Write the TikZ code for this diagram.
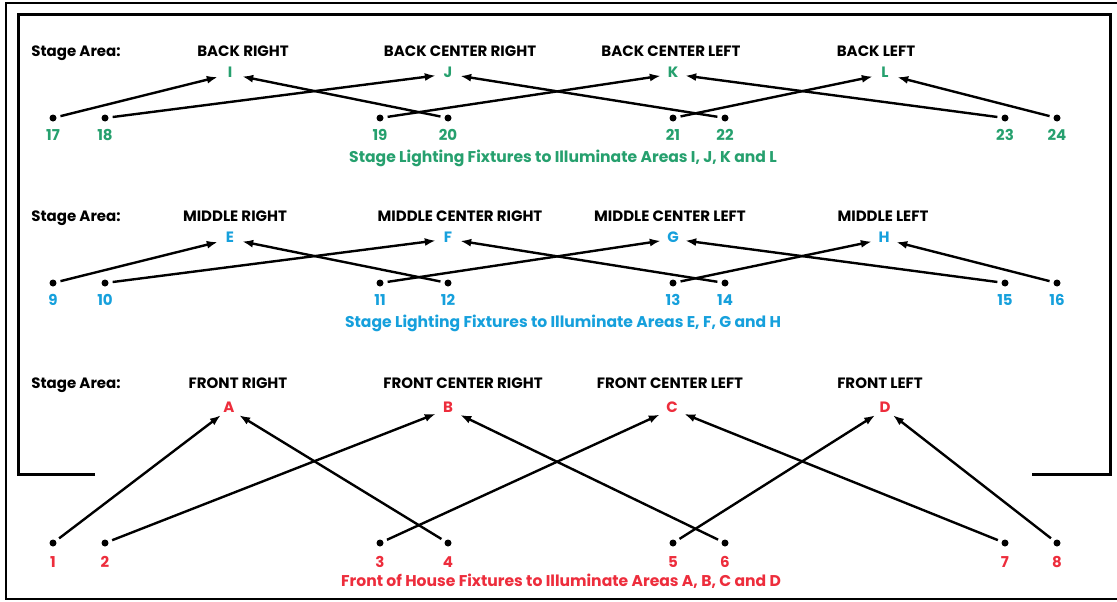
\documentclass[tikz,border=0pt]{standalone}
\usepackage{fontspec}
\setmainfont{Poppins}
\usetikzlibrary{arrows.meta}
\definecolor{cgreen}{RGB}{38,160,110}
\definecolor{cblue}{RGB}{22,160,220}
\definecolor{cred}{RGB}{237,45,60}
\begin{document}
\begin{tikzpicture}[x=1pt,y=-1pt,
  txt/.style={inner sep=0, text height=0.7em, text depth=0pt, yshift=-2pt},
  head/.style={txt, font=\fontsize{15}{15}\selectfont\bfseries},
  letter/.style={txt, font=\fontsize{15}{15}\selectfont\bfseries, minimum width=24pt, minimum height=12pt},
  dotn/.style={circle, fill=black, inner sep=0, minimum size=7pt},
  num/.style={txt, font=\fontsize{15}{15}\selectfont\bfseries},
  capt/.style={txt, font=\fontsize{15.6}{16}\selectfont\bfseries},
  conn/.style={line width=2.4pt, -{Latex[length=11pt,width=8pt]}, shorten <=4pt},
  frame/.style={line width=2pt},
  bracket/.style={line width=3pt, line join=miter}]
\useasboundingbox (0,0) rectangle (1117,602);
% frames
\draw[frame] (1125,3) -- (6,3) -- (6,599) -- (1125,599);
\draw[bracket] (95,474) -- (18,474) -- (18,15) -- (1110,15) -- (1110,474) -- (1032,474);

% ---------- top row ----------
\node[head] (sa1) at (76,51) {Stage Area:};
\node[head] (h1a) at (243,51) {BACK RIGHT};
\node[head] (h1b) at (460,51) {BACK CENTER RIGHT};
\node[head] (h1c) at (671,51) {BACK CENTER LEFT};
\node[head] (h1d) at (876,51) {BACK LEFT};
\node[letter, text=cgreen] (I) at (230,72) {I};
\node[letter, text=cgreen] (J) at (448,72) {J};
\node[letter, text=cgreen] (K) at (673,72) {K};
\node[letter, text=cgreen] (L) at (885,72) {L};
\foreach \n/\x in {17/53,18/105,19/380,20/448,21/673,22/725,23/1005,24/1057}{
  \node[dotn] (d\n) at (\x,118) {};
  \node[num, text=cgreen] (n\n) at (\x,135) {\n};
}
\node[capt, text=cgreen] (c1) at (563,157) {Stage Lighting Fixtures to Illuminate Areas I, J, K and L};
\draw[conn] (d17) -- (I);
\draw[conn] (d18) -- (J);
\draw[conn] (d19) -- (K);
\draw[conn] (d20) -- (I);
\draw[conn] (d21) -- (L);
\draw[conn] (d22) -- (J);
\draw[conn] (d23) -- (K);
\draw[conn] (d24) -- (L);

% ---------- middle row ----------
\node[head] (sa2) at (76,216) {Stage Area:};
\node[head] (h2a) at (235,216) {MIDDLE RIGHT};
\node[head] (h2b) at (460,216) {MIDDLE CENTER RIGHT};
\node[head] (h2c) at (670,216) {MIDDLE CENTER LEFT};
\node[head] (h2d) at (883,216) {MIDDLE LEFT};
\node[letter, text=cblue] (E) at (230,237) {E};
\node[letter, text=cblue] (F) at (448,237) {F};
\node[letter, text=cblue] (G) at (673,237) {G};
\node[letter, text=cblue] (H) at (884,237) {H};
\foreach \n/\x in {9/53,10/105,11/380,12/448,13/673,14/725,15/1005,16/1057}{
  \node[dotn] (d\n) at (\x,283) {};
  \node[num, text=cblue] (n\n) at (\x,300) {\n};
}
\node[capt, text=cblue] (c2) at (563,322) {Stage Lighting Fixtures to Illuminate Areas E, F, G and H};
\draw[conn] (d9) -- (E);
\draw[conn] (d10) -- (F);
\draw[conn] (d11) -- (G);
\draw[conn] (d12) -- (E);
\draw[conn] (d13) -- (H);
\draw[conn] (d14) -- (F);
\draw[conn] (d15) -- (G);
\draw[conn] (d16) -- (H);

% ---------- bottom row ----------
\node[head] (sa3) at (76,383) {Stage Area:};
\node[head] (h3a) at (238,383) {FRONT RIGHT};
\node[head] (h3b) at (463,383) {FRONT CENTER RIGHT};
\node[head] (h3c) at (670,383) {FRONT CENTER LEFT};
\node[head] (h3d) at (880,383) {FRONT LEFT};
\node[letter, text=cred] (A) at (229,407) {A};
\node[letter, text=cred] (B) at (448,407) {B};
\node[letter, text=cred] (C) at (672,407) {C};
\node[letter, text=cred] (D) at (885,407) {D};
\foreach \n/\x in {1/53,2/105,3/380,4/448,5/673,6/725,7/1005,8/1057}{
  \node[dotn] (d\n) at (\x,543) {};
  \node[num, text=cred] (n\n) at (\x,562) {\n};
}
\node[capt, text=cred] (c3) at (561,581) {Front of House Fixtures to Illuminate Areas A, B, C and D};
\draw[conn] (d1) -- (A);
\draw[conn] (d2) -- (B);
\draw[conn] (d3) -- (C);
\draw[conn] (d4) -- (A);
\draw[conn] (d5) -- (D);
\draw[conn] (d6) -- (B);
\draw[conn] (d7) -- (C);
\draw[conn] (d8) -- (D);
\end{tikzpicture}
\end{document}
